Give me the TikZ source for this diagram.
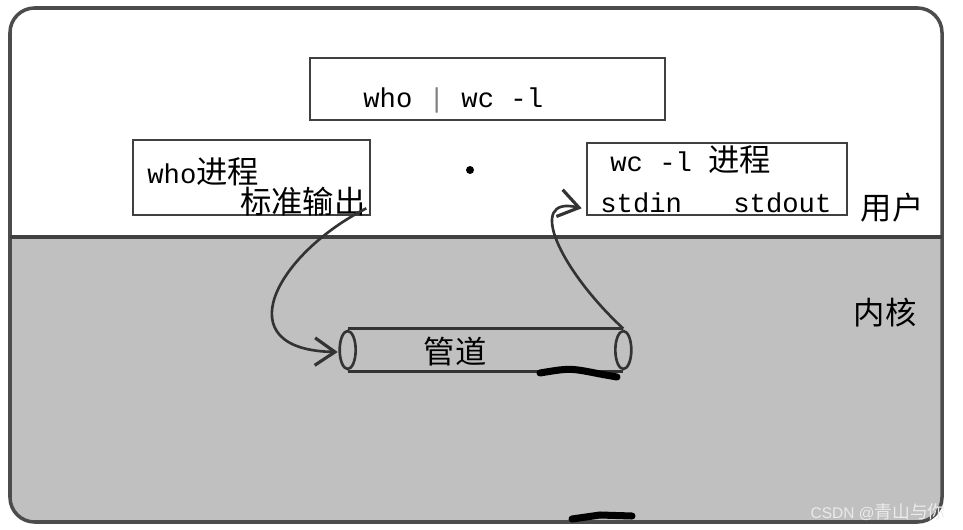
\documentclass[tikz,border=0pt]{standalone}
\usepackage{fontspec}
\setmainfont{Liberation Mono}
\newfontfamily\cjk[Scale=1.15]{Noto Sans CJK SC}
\newfontfamily\wmfont{Liberation Sans}
\usetikzlibrary{calc,positioning,arrows.meta}
\definecolor{kernelgray}{RGB}{192,192,192}

\begin{document}
\begin{tikzpicture}[x=0.02cm,y=-0.02cm]

    \tikzstyle{box}=[draw=black!75,line width=1.5pt,fill=white,inner sep=0pt]
    \tikzstyle{txt}=[font=\fontsize{15.5}{18}\selectfont,inner sep=0pt,anchor=west]
    \tikzstyle{pipeline}=[draw=black!80,line width=1.5pt]
    \tikzstyle{flow}=[line width=1.5pt,black!80,-{Straight Barb[length=4mm,width=5.5mm,line width=1.8pt]}]
    \tikzstyle{scribble}=[line width=4pt,line cap=round,line join=round]

\useasboundingbox (0,0) rectangle (963,530);

% kernel space
\begin{scope}
  \clip[rounded corners=14] (10,8) rectangle (942,522);
  \fill[kernelgray] (10,237) rectangle (942,522);
\end{scope}
\draw[line width=2pt,black!70,rounded corners=14] (10,8) rectangle (942,522);
\draw[line width=1.8pt,black!75] (10,237) -- (942,237);

% user space
\node (cmd) [box,minimum width=7.1cm,minimum height=1.24cm] at (487.5,89) {};
\node (cmd_text) [txt] at (363,100) {who {\color{black!50}|} wc -l};

\node (who) [box,minimum width=4.74cm,minimum height=1.5cm] at (251.5,177.5) {};
\node (who_name) [txt] at (147,172) {who{\cjk 进程}};
\node (who_out_label) [txt] at (240,202) {\cjk 标准输出};

\node (wc) [box,minimum width=5.2cm,minimum height=1.44cm] at (717,179) {};
\node (wc_name) [txt] at (610,160) {wc -l {\cjk 进程}};
\node (wc_in) [txt] at (600,203) {stdin};
\node (wc_out) [txt] at (733,203) {stdout};

\node (dot) [circle,fill,inner sep=1.6pt] at (470,170) {};

\node (user) [txt,anchor=center] at (892,208) {\cjk 用户};
\node (kernel) [txt,anchor=center] at (885,313) {\cjk 内核};

% the pipe
\node (pipe) [minimum width=5.5cm,minimum height=0.84cm,inner sep=0pt] at (485.5,350) {};
\draw[pipeline] (pipe.north west) -- (pipe.north east);
\draw[pipeline] (pipe.south west) -- (pipe.south east);
\draw[pipeline] (pipe.west) ellipse [x radius=8, y radius=19];
\draw[pipeline] (pipe.east) ellipse [x radius=8, y radius=19];
\node (pipe_label) [txt,anchor=center] at (455,352) {\cjk 管道};

\coordinate (who_out) at ($(who.south east)+(-5,-8)$);
\coordinate (pipe_in) at ($(pipe.west)+(-10,2)$);
\coordinate (wc_stdin) at ($(wc.south west)+(-4,-8)$);

\draw[flow] (who_out) .. controls (275,255) and (225,350) .. (pipe_in);
\draw[flow] (pipe.north east) .. controls (560,270) and (525,195) .. (wc_stdin);

\draw[scribble] (540,373) .. controls (570,368) .. (600,374) -- (617,377);
\draw[scribble] (572,519) -- (600,515) -- (632,516);

\node (mark) [font=\wmfont\fontsize{8.8}{10}\selectfont,text=white!92!black,anchor=east,inner sep=0pt] at (946,512) {CSDN @{\cjk 青山与你}};

\end{tikzpicture}
\end{document}
